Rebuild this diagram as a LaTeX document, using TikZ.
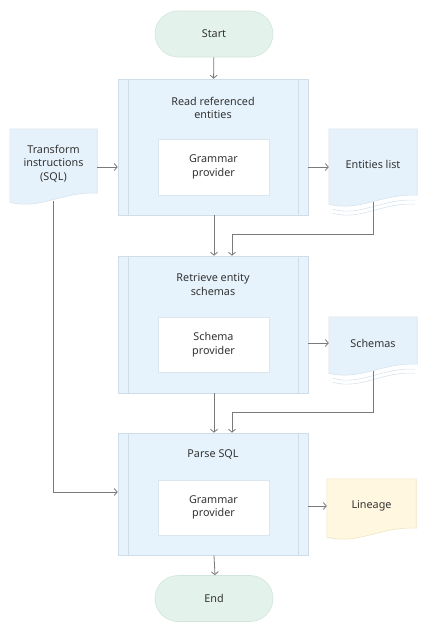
\documentclass[tikz,border=0pt]{standalone}
\usepackage{fontspec}
\setmainfont{Noto Sans}
\usetikzlibrary{arrows.meta, positioning, backgrounds}
\definecolor{termfill}{HTML}{E3F2EA}
\definecolor{termline}{HTML}{D2E5DA}
\definecolor{procfill}{HTML}{E6F3FC}
\definecolor{procline}{HTML}{CFDDE8}
\definecolor{subline}{HTML}{DDE6EC}
\definecolor{docfill}{HTML}{E6F2FB}
\definecolor{docline}{HTML}{D6E4EE}
\definecolor{outfill}{HTML}{FFF7DF}
\definecolor{outline}{HTML}{EEE4C4}
\definecolor{txtcol}{HTML}{333333}
\definecolor{arrcol}{HTML}{7A7A7A}

% document shape behind a named node: #1 node, #2 fill, #3 border
\newcommand{\docshape}[3]{%
  \filldraw[fill=#2, draw=#3, line width=0.6pt] (#1.north west) -- (#1.north east)
    -- ([yshift=5pt]#1.south east)
    .. controls ([xshift=-35pt,yshift=7pt]#1.south east) and ([xshift=31pt,yshift=-12pt]#1.south west)
    .. ([yshift=-4pt]#1.south west) -- cycle;}
% extra sheets under a stacked document
\newcommand{\docstack}[2]{%
  \foreach \dy in {5,9}
    \draw[#2, line width=0.6pt] ([xshift=-2pt,yshift=5pt-\dy pt]#1.south east)
      .. controls ([xshift=-35pt,yshift=7pt-\dy pt]#1.south east) and ([xshift=31pt,yshift=-12pt-\dy pt]#1.south west)
      .. ([xshift=4pt,yshift=-4pt-\dy pt]#1.south west);}

\begin{document}
\begin{tikzpicture}[
    x=1pt, y=-1pt,
    font=\fontsize{10.8}{13.5}\selectfont, text=txtcol,
    term/.style={rectangle, rounded corners=23pt, draw=termline, fill=termfill, line width=0.6pt, minimum width=118pt, minimum height=46pt},
    proc/.style={rectangle, draw=procline, fill=procfill, line width=0.6pt, minimum width=190pt},
    subproc/.style={rectangle, draw=subline, fill=white, line width=0.6pt, minimum width=111pt, minimum height=56pt, align=center},
    doc/.style={rectangle, minimum width=88pt, align=center, inner sep=0pt},
    title/.style={anchor=north, align=center, inner sep=0pt},
    arrow/.style={-{Straight Barb[length=3pt, width=7pt]}, draw=arrcol, line width=0.8pt},
    link/.style={draw=arrcol!85!black, line width=0.8pt}
]
    \useasboundingbox (0,0) rectangle (428,633);

    % Terminators
    \node[term] (start) at (214,34) {Start};
    \node[term] (end) at (214,598.5) {End};

    % Process steps
    \node[proc, minimum height=136pt] (read) at (213,147) {};
    \node[proc, minimum height=137pt] (schem) at (213,324.5) {};
    \node[proc, minimum height=122pt] (parse) at (213,494) {};
    \foreach \p in {read,schem,parse} {
        \draw[procline, line width=0.6pt] ([xshift=11pt]\p.north west) -- ([xshift=11pt]\p.south west);
        \draw[procline, line width=0.6pt] ([xshift=-10pt]\p.north east) -- ([xshift=-10pt]\p.south east);
    }
    \node[title] (readt) at ([yshift=-18pt]read.north) {Read referenced\\entities};
    \node[title] (schemt) at ([yshift=-18pt]schem.north) {Retrieve entity\\schemas};
    \node[title] (parset) at ([yshift=-17pt]parse.north) {Parse SQL};

    % Providers
    \node[subproc] (readg) at (213.5,167) {Grammar\\provider};
    \node[subproc, minimum height=55pt] (schemg) at (213.5,344.5) {Schema\\provider};
    \node[subproc, minimum height=55pt] (parseg) at (213.5,507.5) {Grammar\\provider};

    % Documents
    \node[doc, minimum width=87pt, minimum height=69pt] (trans) at (53.5,163.5) {Transform\\instructions\\(SQL)};
    \node[doc, minimum height=71pt] (ents) at (373,164.5) {Entities list};
    \node[doc, minimum height=52pt] (schemas) at (373,343) {Schemas};
    \node[doc, minimum width=89pt, minimum height=54pt] (lineage) at (371.5,506) {Lineage};
    \begin{scope}[on background layer]
        \docshape{trans}{docfill}{docline}
        \docshape{ents}{docfill}{docline}
        \docstack{ents}{docline}
        \docshape{schemas}{docfill}{docline}
        \docstack{schemas}{docline}
        \docshape{lineage}{outfill}{outline}
    \end{scope}

    % Main flow
    \draw[arrow] (start) -- (read);
    \draw[arrow] ([xshift=1pt]read.south) -- ([xshift=1pt]schem.north);
    \draw[arrow] ([xshift=1pt]schem.south) -- ([xshift=1pt]parse.north);
    \draw[arrow] ([xshift=1pt]parse.south) -- ([xshift=1pt]end.north);

    % Inputs and outputs
    \draw[arrow] (trans.east |- readg) -- (read.west |- readg);
    \draw[arrow] (read.east |- readg) -- (ents.west |- readg);
    \draw[arrow] (schem.east |- schemas) -- (schemas.west);
    \draw[arrow] (parse.east |- lineage) -- (lineage.west);
    \draw[link, arrow] ([yshift=-2pt]ents.south) |- (232,234) -- ([xshift=19pt]schem.north);
    \draw[link, arrow] ([yshift=-2pt]schemas.south) |- (232,412) -- ([xshift=19pt]parse.north);
    \draw[link, arrow] ([yshift=-3pt]trans.south) |- ([yshift=2pt]parse.west);
\end{tikzpicture}
\end{document}
